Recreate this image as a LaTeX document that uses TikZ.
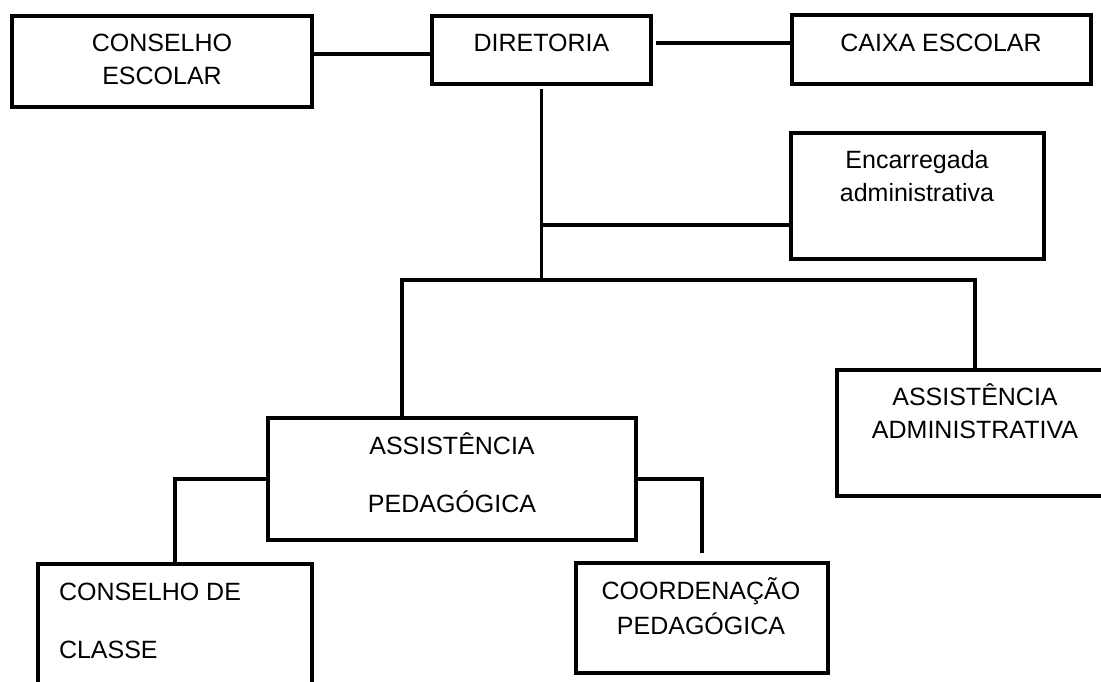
\documentclass[tikz,border=0pt]{standalone}
\usepackage{fontspec}
\setmainfont{Liberation Sans}
\begin{document}
\begin{tikzpicture}[x=1pt,y=-1pt, line width=3.2pt,
  box/.style={draw, rectangle, inner sep=0pt, outer sep=0pt},
  lbl/.style={inner sep=0pt, outer sep=0pt, font=\fontsize{25}{30}\selectfont, anchor=base}]
\useasboundingbox (0,0) rectangle (1101,682);
\clip (0,0) rectangle (1101,682);

% boxes
\node[box, minimum width=300pt, minimum height=91pt] (cons) at (162,61.5) {};
\node[box, minimum width=219pt, minimum height=68pt] (dir) at (541.5,50) {};
\node[box, minimum width=299pt, minimum height=69pt] (caixa) at (941.5,49.5) {};
\node[box, minimum width=253pt, minimum height=126pt] (enc) at (917.5,196) {};
\node[box, minimum width=276pt, minimum height=126pt] (admin) at (975,433) {};
\node[box, minimum width=368pt, minimum height=122pt] (ped) at (452,479) {};
\node[inner sep=0pt, outer sep=0pt, minimum width=274pt, minimum height=150pt] (classe) at (175,639) {};
\draw (classe.south west) -- (classe.north west) -- (classe.north east) -- (classe.south east);
\node[box, minimum width=252pt, minimum height=110pt] (coord) at (702,618) {};

% connectors
\coordinate (bus) at (541.5,280);
\path ([yshift=-4pt]dir.west) coordinate (dl);
\draw (dl) -- (cons.east |- dl);
\path ([yshift=6.5pt]caixa.west) coordinate (cl);
\path ([xshift=5pt]dir.east) coordinate (de);
\draw (cl) -- (de |- cl);
\path ([yshift=-5pt]dir.south) coordinate (ds);
\draw (ds) -- (bus);
\path ([yshift=-29pt]enc.west) coordinate (el);
\draw (el) -- (bus |- el);
\path ([xshift=-50pt]ped.north) coordinate (pl);
\draw (pl) -- (pl |- bus) -- (admin.north |- bus) -- (admin.north);
\draw (ped.west) -| (classe.north);
\path ([yshift=10pt]coord.north) coordinate (cn);
\draw (ped.east) -| (cn);

% labels
\node[lbl] (consA) at (162,52) {CONSELHO};
\node[lbl] (consB) at (162,85) {ESCOLAR};
\node[lbl] (dirA) at (541.5,52) {DIRETORIA};
\node[lbl] (caixaA) at (941,52) {CAIXA ESCOLAR};
\node[lbl] (encA) at (917,168) {Encarregada};
\node[lbl] (encB) at (917,201) {administrativa};
\node[lbl] (adminA) at (975,405) {ASSISTÊNCIA};
\node[lbl] (adminB) at (975,438) {ADMINISTRATIVA};
\node[lbl] (pedA) at (452,454) {ASSISTÊNCIA};
\node[lbl] (pedB) at (452,512) {PEDAGÓGICA};
\node[lbl, anchor=base west] (classeA) at (59,600) {CONSELHO DE};
\node[lbl, anchor=base west] (classeB) at (59,658) {CLASSE};
\node[lbl] (coordA) at (701,599) {COORDENAÇÃO};
\node[lbl] (coordB) at (701,634) {PEDAGÓGICA};
\end{tikzpicture}
\end{document}
